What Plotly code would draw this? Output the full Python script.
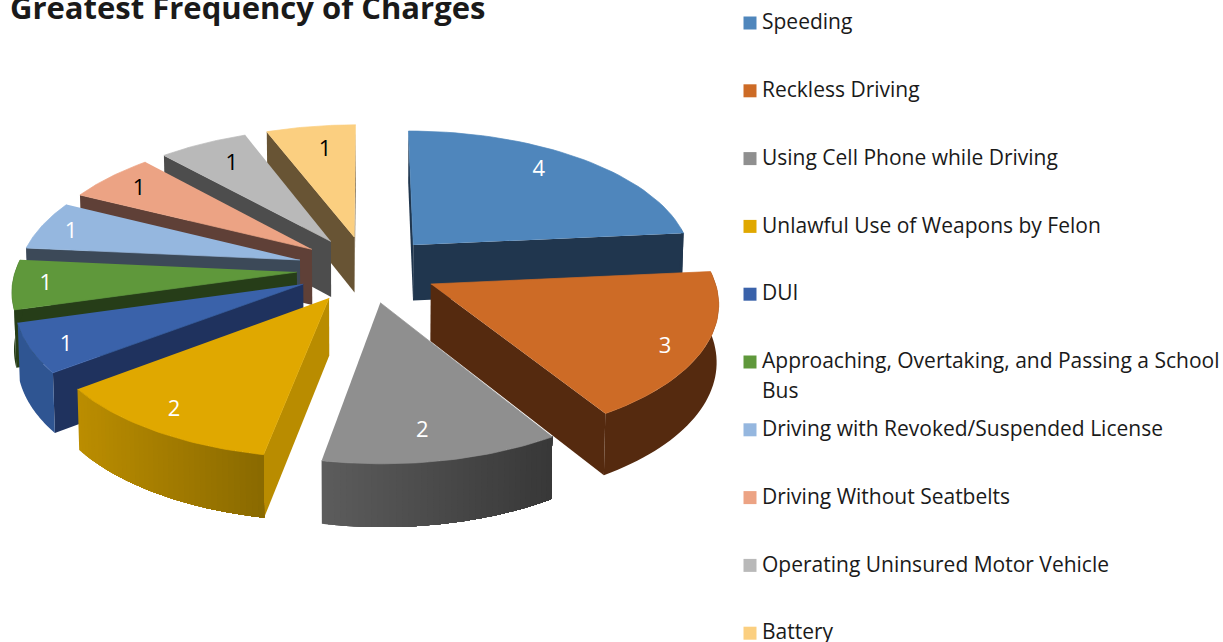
import numpy as np
import plotly.graph_objects as go

title = "Greatest Frequency of Charges"
categories = ["Speeding", "Reckless Driving", "Using Cell Phone while Driving",
              "Unlawful Use of Weapons by Felon", "DUI",
              "Approaching, Overtaking, and Passing a School<br>Bus",
              "Driving with Revoked/Suspended License", "Driving Without Seatbelts",
              "Operating Uninsured Motor Vehicle", "Battery"]
values = [4, 3, 2, 2, 1, 1, 1, 1, 1, 1]
top_colors = ["#4F86BC", "#CD6B26", "#8F8F8F", "#E0A800", "#3A62AA",
              "#5F983B", "#95B7DF", "#ECA384", "#B9B9B9", "#FBCF80"]
face_colors = ["#20364E", "#552A0F", "#3A3A3A", "#B98C00", "#1F325E",
               "#263D18", "#3C4958", "#5F4037", "#4D4D4D", "#685434"]
wall_left = ["#20364E", "#552A0F", "#5C5C5C", "#BB8D00", "#2F5592",
             "#263D18", "#3C4958", "#5F4037", "#4D4D4D", "#685434"]
wall_right = ["#20364E", "#552A0F", "#383838", "#8A6A00", "#2F5592",
              "#263D18", "#3C4958", "#5F4037", "#4D4D4D", "#685434"]
label_colors = ["white"] * 7 + ["black"] * 3
label_nudge_x = [-18, 4, -10, -9.6, -7, -9.7, -9, 0.6, 11, 8.3]
label_nudge_y = [0, 9, -3, 1, 7, 2, 2, 2, 7, 9]

# 3-D projection of the pie into pixel-like axes
CX, CY, FX, FY, PERSP, DEPTH, EXPLODE, LABEL_R = 367, 269, 281, 133, 0.12, 56.5, 0.25, 0.85
SHRINK = 0.006


def project(X, Y, drop=0.0):
    X, Y = np.asarray(X, float), np.asarray(Y, float)
    s = 1 / (1 - PERSP * Y)
    k = 1 - SHRINK if drop else 1
    return CX + FX * X * s * k, CY + FY * Y * s + drop * s ** 0.7


def mix(a, b, t):
    ca = [int(a[i:i + 2], 16) for i in (1, 3, 5)]
    cb = [int(b[i:i + 2], 16) for i in (1, 3, 5)]
    return "#%02x%02x%02x" % tuple(round(u + (v - u) * t) for u, v in zip(ca, cb))


def poly(x, y, color):
    return go.Scatter(x=list(x), y=list(y), mode="none", fill="toself", fillcolor=color,
                      hoverinfo="skip", showlegend=False)


total = sum(values)
edges = np.cumsum([0] + values) / total * 2 * np.pi
slices = list(range(len(values)))
mids = [(edges[i] + edges[i + 1]) / 2 for i in slices]
fig = go.Figure()

for i in sorted(slices, key=lambda k: -np.cos(mids[k])):
    a0, a1, m = edges[i], edges[i + 1], mids[i]
    ox, oy = EXPLODE * np.sin(m), -EXPLODE * np.cos(m)
    th = np.linspace(a0, a1, 40)
    ax, ay = ox + np.sin(th), oy - np.cos(th)
    tx, ty = project(np.r_[ox, ax], np.r_[oy, ay])
    bx, by = project(np.r_[ox, ax], np.r_[oy, ay], DEPTH)

    # radial faces that turn towards the viewer
    cxm, cym = project([ox + 0.6 * np.sin(m)], [oy - 0.6 * np.cos(m)])
    for k in (1, len(tx) - 1):
        ex, ey = tx[k] - tx[0], ty[k] - ty[0]
        side_in = ex * (cym[0] - ty[0]) - ey * (cxm[0] - tx[0])
        side_down = ex * 1
        if side_in * side_down < 0:
            fig.add_trace(poly([tx[0], tx[k], bx[k], bx[0]], [ty[0], ty[k], by[k], by[0]], face_colors[i]))

    # curved outer wall: overlapping polygons painted in order, so no seams show
    vis = [j for j in range(1, len(tx) - 1) if np.cos(th[j - 1]) < 0.1 or np.cos(th[j]) < 0.1]
    if vis:
        order = sorted(vis, key=lambda j: tx[j])
        for n in range(len(order)):
            idx = sorted(set(order[n:] + [j + 1 for j in order[n:]]))
            t = np.clip((tx[order[n]] - min(tx[j] for j in vis)) / max(1, np.ptp([tx[j] for j in vis])), 0, 1)
            col = mix(wall_left[i], wall_right[i], t)
            fig.add_trace(poly(list(tx[idx]) + list(bx[idx][::-1]), list(ty[idx]) + list(by[idx][::-1]), col))
            if wall_left[i] == wall_right[i]:
                break

    fig.add_trace(go.Scatter(x=list(tx), y=list(ty), mode="lines", fill="toself", fillcolor=top_colors[i],
                             line=dict(color=top_colors[i], width=0.7), name=categories[i].replace("<br>", " "),
                             hovertemplate="%{fullData.name}: " + str(values[i]) + "<extra></extra>", showlegend=False))

# data labels
lx, ly = project([(EXPLODE + LABEL_R) * np.sin(m) for m in mids],
                 [-(EXPLODE + LABEL_R) * np.cos(m) for m in mids])
fig.add_trace(go.Scatter(x=lx + np.array(label_nudge_x), y=ly + np.array(label_nudge_y), mode="text",
                         text=[str(v) for v in values],
                         textfont=dict(family="Open Sans", size=22, color=label_colors),
                         hoverinfo="skip", showlegend=False))

# legend column
LEG_SW, LEG_TX, LEG_Y0, LEG_STEP, LINE_H, TEXT_SHIFT = 750, 762, 23, 67.8, 30, 1
leg_y = [LEG_Y0 + LEG_STEP * i for i in slices]
fig.add_trace(go.Scatter(x=[LEG_SW] * len(slices), y=leg_y, mode="markers",
                         marker=dict(symbol="square", size=13, color=top_colors),
                         hoverinfo="skip", showlegend=False))
tx_y, tx_s = [], []
for y, name in zip(leg_y, categories):
    for n, line in enumerate(name.split("<br>")):
        tx_y.append(y + n * LINE_H + TEXT_SHIFT)
        tx_s.append(line)
fig.add_trace(go.Scatter(x=[LEG_TX] * len(tx_s), y=tx_y, mode="text", text=tx_s, textposition="middle right",
                         textfont=dict(family="Open Sans", size=21, color="#1a1a1a"),
                         hoverinfo="skip", showlegend=False))

fig.update_layout(
    width=1223, height=642, margin=dict(l=0, r=0, t=0, b=0), autosize=False,
    paper_bgcolor="white", plot_bgcolor="white", showlegend=False,
    title=dict(text="<b>" + title + "</b>", x=10 / 1223, xanchor="left", y=1 - 8 / 642, yanchor="middle",
               font=dict(family="Open Sans", size=31, color="#1a1a1a")),
    xaxis=dict(range=[0, 1223], visible=False, fixedrange=True),
    yaxis=dict(range=[642, 0], visible=False, fixedrange=True),
)
fig.write_html("out.html", config=dict(displayModeBar=False), post_script="document.body.style.margin='0';")
